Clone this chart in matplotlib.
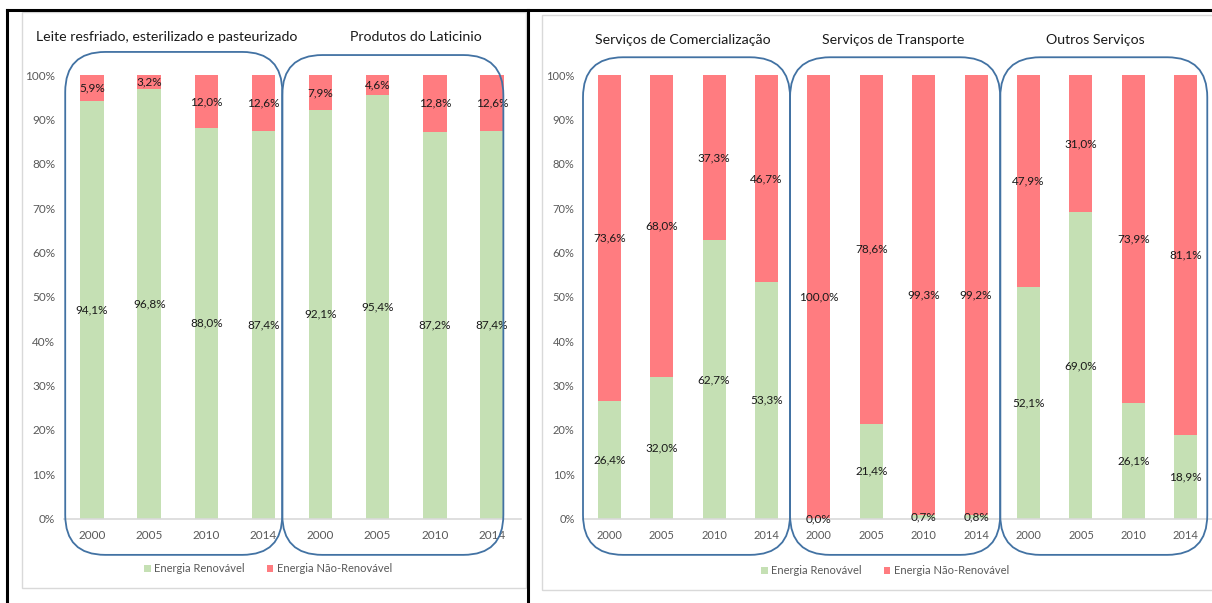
import matplotlib
matplotlib.use("Agg")
import matplotlib.pyplot as plt
from matplotlib.patches import FancyBboxPatch, Rectangle, Patch
from matplotlib.lines import Line2D
from matplotlib.transforms import IdentityTransform
from matplotlib.ticker import PercentFormatter

plt.rcParams['font.family'] = ['Lato', 'DejaVu Sans']

# ---- data -------------------------------------------------------------
years = ["2000", "2005", "2010", "2014"]

left_groups = ["Leite resfriado, esterilizado e pasteurizado", "Produtos do Laticinio"]
leite_renov = [94.1, 96.8, 88.0, 87.4]
leite_nao = [5.9, 3.2, 12.0, 12.6]
lat_renov = [92.1, 95.4, 87.2, 87.4]
lat_nao = [7.9, 4.6, 12.8, 12.6]

right_groups = ["Serviços de Comercialização", "Serviços de Transporte", "Outros Serviços"]
com_renov = [26.4, 32.0, 62.7, 53.3]
com_nao = [73.6, 68.0, 37.3, 46.7]
tra_renov = [0.0, 21.4, 0.7, 0.8]
tra_nao = [100.0, 78.6, 99.3, 99.2]
out_renov = [52.1, 69.0, 26.1, 18.9]
out_nao = [47.9, 31.0, 73.9, 81.1]

series_names = ["Energia Renovável", "Energia Não-Renovável"]

# ---- style ------------------------------------------------------------
GREEN = "#c5e0b4"
RED = "#ff7c80"
BOX = "#4272a3"
TXT = "#1a1a1a"
TICK = "#595959"
GRID = "#d9d9d9"

W, H = 1212, 603
fig = plt.figure(figsize=(W / 100, H / 100), dpi=100)
fig.patch.set_facecolor("white")


def px_axes(x0, x1, ytop, ybot):
    return fig.add_axes([x0 / W, (H - ybot) / H, (x1 - x0) / W, (ybot - ytop) / H])


def fmt(v):
    return f"{v:.1f}".replace(".", ",") + "%"


def draw_panel(ax, renov, nao, bar_w, box_edges, box_top, titles, title_x, title_y, tick_fs):
    n = len(renov)
    xs = list(range(n))
    ax.bar(xs, renov, width=bar_w, color=GREEN, zorder=2)
    ax.bar(xs, nao, width=bar_w, bottom=renov, color=RED, zorder=2)
    for x, r, q in zip(xs, renov, nao):
        ax.text(x, r / 2, fmt(r), ha="center", va="center", fontsize=8.5, color=TXT, zorder=3)
        ax.text(x, r + q / 2, fmt(q), ha="center", va="center", fontsize=8.5, color=TXT, zorder=3)
    ax.set_xlim(-0.5, n - 0.5)
    ax.set_ylim(0, 100)
    ax.set_yticks(range(0, 101, 10))
    ax.yaxis.set_major_formatter(PercentFormatter(decimals=0))
    ax.set_xticks(xs)
    ax.set_xticklabels(years * (n // 4))
    ax.tick_params(axis="y", length=0, pad=6, labelsize=tick_fs, labelcolor=TICK)
    ax.tick_params(axis="x", length=0, pad=8, labelsize=tick_fs, labelcolor=TICK)
    for s in ("top", "right", "left"):
        ax.spines[s].set_visible(False)
    ax.spines["bottom"].set_color(GRID)
    ax.spines["bottom"].set_linewidth(1.2)
    ax.patch.set_alpha(0)

    # rounded outlines around each group of years, with the group name above
    for (g0, g1), top, title, tx in zip(box_edges, box_top, titles, title_x):
        (dx0, _), (dx1, _) = ax.transData.transform([(g0, 0), (g1, 0)])
        _, dy_top = ax.transAxes.transform((0, top))
        _, dy_bot = ax.transAxes.transform((0, -0.082))
        fig.patches.append(FancyBboxPatch(
            (dx0, dy_bot), dx1 - dx0, dy_top - dy_bot,
            boxstyle="round,pad=0,rounding_size=40",
            transform=IdentityTransform(), fill=False,
            edgecolor=BOX, linewidth=1.3, zorder=5))
        cx = ax.transData.transform((tx, 0))[0]
        fig.text(cx / W, (H - title_y) / H, title, ha="center", va="center",
                 fontsize=10.2, color=TXT)


# chart-area frames and black borders
for (x0, y0, x1, y1) in [(22, 12, 526, 588), (542, 15, 1216, 590)]:
    fig.patches.append(Rectangle((x0, H - y1), x1 - x0, y1 - y0, transform=IdentityTransform(),
                                 fill=False, edgecolor=GRID, linewidth=1.0, zorder=0))
for xs_, ys_ in [((7, 7), (10, 603)), ((7, 1212), (10, 10)), ((528, 528), (10, 603))]:
    fig.lines.append(Line2D(xs_, [H - y for y in ys_], transform=IdentityTransform(),
                            color="black", linewidth=2.2, zorder=10))

# left panel
axL = px_axes(63.5, 520.5, 75, 518.5)
draw_panel(axL, leite_renov + lat_renov, leite_nao + lat_nao, 0.41,
           [(-0.47, 3.33), (3.33, 7.2)], [1.052, 1.045], left_groups,
           [1.3, 5.67], 37, 8.5)

# right panel
axR = px_axes(583, 1212, 75, 518.5)
draw_panel(axR, com_renov + tra_renov + out_renov, com_nao + tra_nao + out_nao, 0.44,
           [(-0.5, 3.45), (3.45, 7.46), (7.46, 11.41)], [1.04, 1.04, 1.04], right_groups,
           [1.41, 5.42, 9.27], 40, 8)

handles = [Patch(facecolor=GREEN, edgecolor="none"), Patch(facecolor=RED, edgecolor="none")]
for cx, cy in [(268, 569), (885, 571)]:
    fig.legend(handles, series_names, loc="center", bbox_to_anchor=(cx / W, (H - cy) / H),
               ncol=2, frameon=False, fontsize=8, labelcolor=TICK,
               handlelength=0.6, handleheight=0.6, handletextpad=0.3, columnspacing=2.0)

fig.savefig("out.png", dpi=100, facecolor="white")
